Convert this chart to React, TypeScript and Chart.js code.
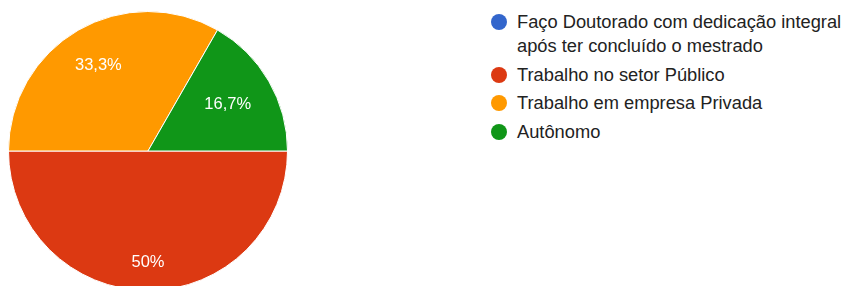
import React, { useEffect, useRef } from "react";
import { Chart, registerables } from "chart.js";

Chart.register(...registerables);

const labels = [
  "Faço Doutorado com dedicação integral após ter concluído o mestrado",
  "Trabalho no setor Público",
  "Trabalho em empresa Privada",
  "Autônomo",
];
const legendLines = [
  ["Faço Doutorado com dedicação integral", "após ter concluído o mestrado"],
  ["Trabalho no setor Público"],
  ["Trabalho em empresa Privada"],
  ["Autônomo"],
];
const values = [0, 50, 33.3, 16.7];
const valueLabels = ["", "50%", "33,3%", "16,7%"];
const colors = ["#3366cc", "#dc3912", "#ff9900", "#109618"];
const labelRadiusFactor = [0.7, 0.8, 0.71, 0.66];

const sliceLabelPlugin = {
  id: "sliceLabels",
  afterDatasetsDraw(chart: any) {
    const ctx = chart.ctx;
    const meta = chart.getDatasetMeta(0);
    ctx.save();
    ctx.font = '16.5px "Liberation Sans", Arial, sans-serif';
    ctx.fillStyle = "#ffffff";
    ctx.textAlign = "center";
    ctx.textBaseline = "middle";
    meta.data.forEach((arc: any, i: number) => {
      const text = valueLabels[i];
      if (!text) return;
      const p = arc.getProps(["x", "y", "startAngle", "endAngle", "outerRadius"], true);
      const mid = (p.startAngle + p.endAngle) / 2;
      const r = p.outerRadius * labelRadiusFactor[i];
      ctx.fillText(text, p.x + Math.cos(mid) * r, p.y + Math.sin(mid) * r);
    });
    ctx.restore();
  },
};

export default function App() {
  const canvasRef = useRef<HTMLCanvasElement>(null);
  useEffect(() => {
    const chart = new Chart(canvasRef.current!, {
      type: "pie",
      data: {
        labels,
        datasets: [
          {
            data: values,
            backgroundColor: colors,
            borderColor: "#ffffff",
            borderWidth: 1,
          },
        ],
      },
      options: {
        animation: false,
        responsive: false,
        rotation: 90,
        layout: { padding: { left: 8, right: 8, top: 11, bottom: 1 } },
        plugins: {
          legend: { display: false },
          tooltip: { enabled: false },
        },
      },
      plugins: [sliceLabelPlugin],
    });
    return () => chart.destroy();
  }, []);

  return (
    <div
      style={{
        position: "fixed",
        left: 0,
        top: 0,
        width: 851,
        height: 286,
        overflow: "hidden",
        background: "#ffffff",
      }}
    >
      <canvas
        ref={canvasRef}
        width={296}
        height={292}
        style={{ position: "absolute", left: 0, top: 0, width: 296, height: 292 }}
      />
      <div
        style={{
          position: "absolute",
          left: 483,
          top: 10,
          fontFamily: '"Liberation Sans", Arial, sans-serif',
          fontSize: 18.3,
          color: "#222222",
        }}
      >
        {legendLines.map((lines, i) => (
          <div key={i} style={{ position: "relative", paddingLeft: 34, marginBottom: 4.5 }}>
            <span
              style={{
                position: "absolute",
                left: 8,
                top: 4,
                width: 16,
                height: 16,
                borderRadius: "50%",
                background: colors[i],
              }}
            />
            {lines.map((l, j) => (
              <div key={j} style={{ lineHeight: "24px", whiteSpace: "nowrap" }}>
                {l}
              </div>
            ))}
          </div>
        ))}
      </div>
    </div>
  );
}
